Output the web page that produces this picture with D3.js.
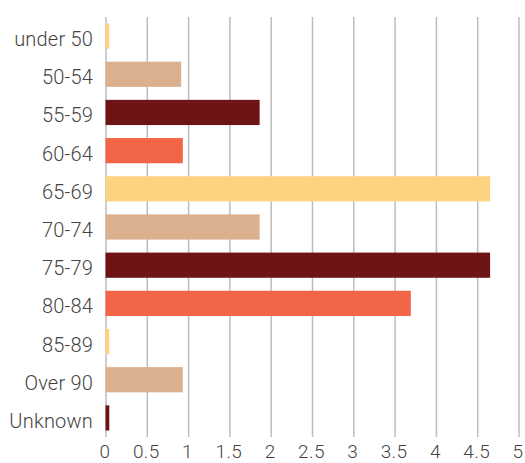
<!DOCTYPE html>
<html><head><meta charset="utf-8">
<script src="https://cdn.jsdelivr.net/npm/d3@7"></script>
<style>body{margin:0;background:#fff;} svg{display:block;}</style>
</head><body>
<svg id="c" width="525" height="463"></svg>
<script>
const categories = ["under 50","50-54","55-59","60-64","65-69","70-74","75-79","80-84","85-89","Over 90","Unknown"];
const values = [0.04,0.91,1.86,0.93,4.65,1.86,4.65,3.69,0.04,0.93,0.04];
const palette = ["#FDD382","#DBB08F","#6E1416","#F26546"];
const xTicks = [0,0.5,1,1.5,2,2.5,3,3.5,4,4.5,5];

const svg = d3.select("#c");
const mLeft = 106, mRight = 519, mTop = 17, mBottom = 437;
const x = d3.scaleLinear().domain([0,5]).range([mLeft,mRight]);
const y = d3.scaleBand().domain(categories).range([mTop,mBottom]).paddingInner(0.34).paddingOuter(0.17);

svg.append("g").selectAll("line").data(xTicks).join("line")
  .attr("x1",d=>x(d)).attr("x2",d=>x(d)).attr("y1",mTop).attr("y2",mBottom)
  .attr("stroke","#bdbdbd").attr("stroke-width",1.5);

svg.append("g").selectAll("rect").data(categories).join("rect")
  .attr("x",x(0)-0.5).attr("y",d=>y(d))
  .attr("width",(d,i)=>x(values[i])-x(0)+0.5).attr("height",y.bandwidth())
  .attr("fill",(d,i)=>palette[i%4]);

const font = "Roboto, 'DejaVu Sans', sans-serif";
svg.append("g").selectAll("text").data(categories).join("text")
  .attr("x",93).attr("y",d=>y(d)+y.bandwidth()/2+10)
  .attr("text-anchor","end").attr("font-family",font).attr("font-size",20)
  .attr("letter-spacing",0.2)
  .attr("font-weight",300).attr("fill","#444").text(d=>d);

svg.append("g").selectAll("text").data(xTicks).join("text")
  .attr("x",d=>x(d)-1).attr("y",458).attr("text-anchor","middle")
  .attr("font-family",font).attr("font-size",19).attr("font-weight",300)
  .attr("letter-spacing",0.4)
  .attr("fill","#444").text(d=>d);
</script>
</body></html>
